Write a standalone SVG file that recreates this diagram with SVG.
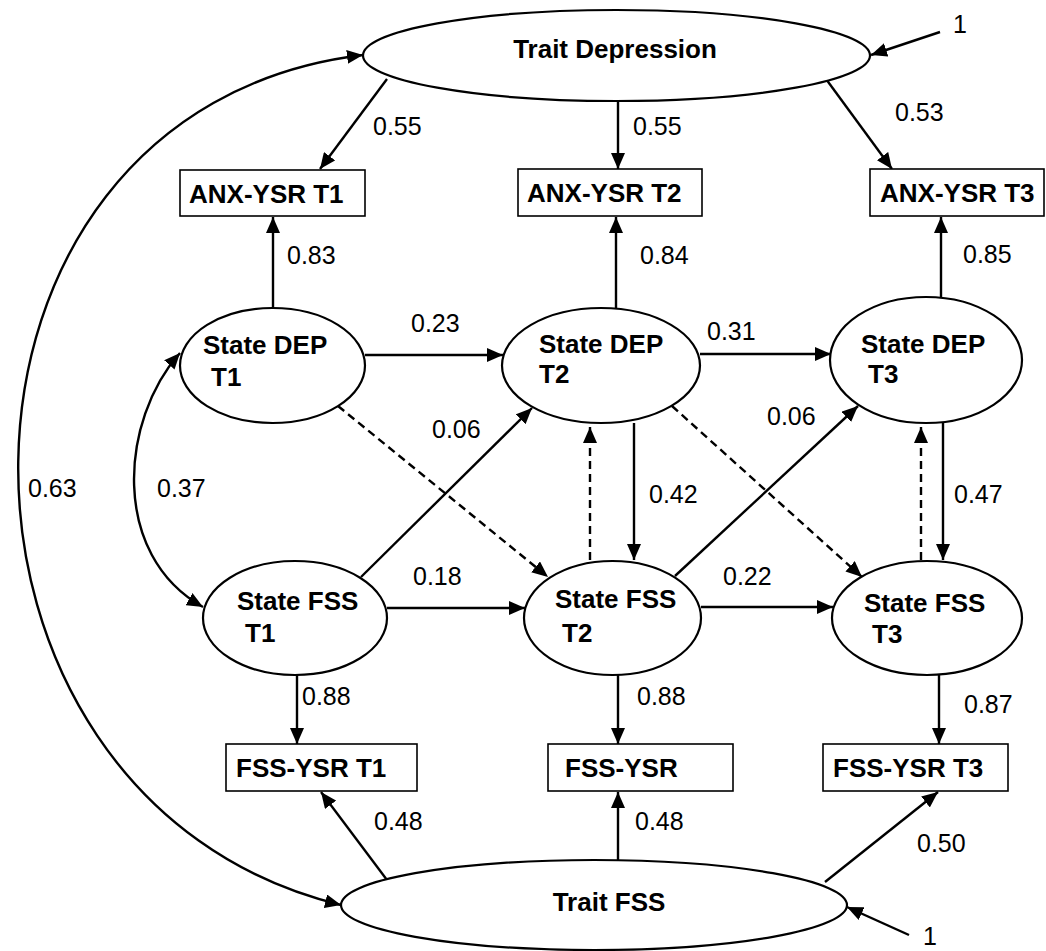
<svg xmlns="http://www.w3.org/2000/svg" width="1046" height="951" viewBox="0 0 1046 951">
<style>
.bg{fill:#fff}
.lat{fill:#fff;stroke:#000;stroke-width:2.2}
.box{fill:#fff;stroke:#000;stroke-width:1.6}
.nt{font-family:"Liberation Sans",Arial,sans-serif;font-weight:bold;font-size:26px;fill:#000}
.lb{font-family:"Liberation Sans",Arial,sans-serif;font-size:25px;fill:#000}
.c{fill:none;stroke:#000;stroke-width:2.4;marker-end:url(#a)}
.d{stroke-dasharray:8 5}
.bi{marker-start:url(#a)}
</style>
<defs>
<marker id="a" viewBox="0 0 16 14" refX="16" refY="7" markerWidth="16" markerHeight="14" orient="auto-start-reverse" markerUnits="userSpaceOnUse"><path d="M0,0 L16,7 L0,14 z" fill="#000"/></marker>
</defs>
<rect class="bg" x="0" y="0" width="1046" height="951"/>
<g id="connectors">
<path class="c bi" d="M363,55 C-93,110 -93,800 341,905"/>
<path class="c bi" d="M180,353 C120,420 110,555 203,607"/>
<line class="c" x1="387" y1="79" x2="320" y2="169"/>
<line class="c" x1="618" y1="102" x2="618" y2="169"/>
<line class="c" x1="826" y1="79" x2="892" y2="169"/>
<line class="c" x1="273" y1="308" x2="273" y2="217"/>
<line class="c" x1="616" y1="308" x2="616" y2="217"/>
<line class="c" x1="941" y1="297" x2="941" y2="217"/>
<line class="c" x1="365" y1="355" x2="503" y2="355"/>
<line class="c" x1="700" y1="354" x2="831" y2="354"/>
<line class="c" x1="387" y1="608" x2="525" y2="608"/>
<line class="c" x1="701" y1="607" x2="833" y2="607"/>
<line class="c d" x1="338" y1="406" x2="548" y2="577"/>
<line class="c" x1="361" y1="577" x2="532" y2="408"/>
<line class="c d" x1="590" y1="560" x2="590" y2="427"/>
<line class="c" x1="634" y1="423" x2="634" y2="560"/>
<line class="c d" x1="672" y1="406" x2="862" y2="577"/>
<line class="c" x1="675" y1="576" x2="858" y2="406"/>
<line class="c d" x1="921" y1="560" x2="921" y2="427"/>
<line class="c" x1="943" y1="423" x2="943" y2="560"/>
<line class="c" x1="297" y1="675" x2="297" y2="744"/>
<line class="c" x1="618" y1="675" x2="618" y2="744"/>
<line class="c" x1="939" y1="675" x2="939" y2="744"/>
<line class="c" x1="387" y1="880" x2="321" y2="792"/>
<line class="c" x1="618" y1="860" x2="618" y2="792"/>
<line class="c" x1="825" y1="882" x2="938" y2="792"/>
<line class="c" x1="940" y1="32" x2="871" y2="55"/>
<line class="c" x1="909" y1="935" x2="847" y2="907"/>
<text class="lb" x="373" y="135">0.55</text>
<text class="lb" x="633" y="135">0.55</text>
<text class="lb" x="895" y="121">0.53</text>
<text class="lb" x="953" y="33">1</text>
<text class="lb" x="287" y="264">0.83</text>
<text class="lb" x="640" y="264">0.84</text>
<text class="lb" x="963" y="263">0.85</text>
<text class="lb" x="411" y="332">0.23</text>
<text class="lb" x="707" y="340">0.31</text>
<text class="lb" x="432" y="438">0.06</text>
<text class="lb" x="767" y="425">0.06</text>
<text class="lb" x="28" y="497">0.63</text>
<text class="lb" x="157" y="497">0.37</text>
<text class="lb" x="649" y="503">0.42</text>
<text class="lb" x="954" y="503">0.47</text>
<text class="lb" x="413" y="585">0.18</text>
<text class="lb" x="723" y="585">0.22</text>
<text class="lb" x="302" y="705">0.88</text>
<text class="lb" x="637" y="705">0.88</text>
<text class="lb" x="964" y="713">0.87</text>
<text class="lb" x="374" y="830">0.48</text>
<text class="lb" x="635" y="830">0.48</text>
<text class="lb" x="917" y="852">0.50</text>
<text class="lb" x="923" y="945">1</text>
</g>
<g id="trait-depression"><ellipse class="lat" cx="616.5" cy="55.5" rx="253.5" ry="45.5"/><text class="nt" x="615" y="58" text-anchor="middle">Trait Depression</text></g>
<g id="anx-t1"><rect class="box" x="180" y="170" width="185" height="46"/><text class="nt" x="189" y="203">ANX-YSR T1</text></g>
<g id="anx-t2"><rect class="box" x="518" y="169" width="184" height="47"/><text class="nt" x="527" y="202">ANX-YSR T2</text></g>
<g id="anx-t3"><rect class="box" x="870" y="169" width="174" height="47"/><text class="nt" x="880" y="202">ANX-YSR T3</text></g>
<g id="state-dep-t1"><ellipse class="lat" cx="272.5" cy="365.5" rx="92.5" ry="57.5"/><text class="nt" x="203" y="354">State DEP</text><text class="nt" x="211" y="386">T1</text></g>
<g id="state-dep-t2"><ellipse class="lat" cx="601" cy="365.5" rx="99" ry="57.5"/><text class="nt" x="539" y="353">State DEP</text><text class="nt" x="539" y="383">T2</text></g>
<g id="state-dep-t3"><ellipse class="lat" cx="926" cy="360" rx="96" ry="63"/><text class="nt" x="861" y="353">State DEP</text><text class="nt" x="868" y="383">T3</text></g>
<g id="state-fss-t1"><ellipse class="lat" cx="295" cy="618" rx="92" ry="57"/><text class="nt" x="237" y="610">State FSS</text><text class="nt" x="245" y="642">T1</text></g>
<g id="state-fss-t2"><ellipse class="lat" cx="612.5" cy="618" rx="88.5" ry="57"/><text class="nt" x="555" y="608">State FSS</text><text class="nt" x="562" y="642">T2</text></g>
<g id="state-fss-t3"><ellipse class="lat" cx="927" cy="618" rx="95" ry="57"/><text class="nt" x="864" y="612">State FSS</text><text class="nt" x="872" y="643">T3</text></g>
<g id="fss-ysr-t1"><rect class="box" x="226" y="744" width="191" height="47"/><text class="nt" x="236" y="777">FSS-YSR T1</text></g>
<g id="fss-ysr-t2"><rect class="box" x="548" y="744" width="185" height="47"/><text class="nt" x="565" y="777">FSS-YSR</text></g>
<g id="fss-ysr-t3"><rect class="box" x="823" y="744" width="185" height="47"/><text class="nt" x="833" y="777">FSS-YSR T3</text></g>
<g id="trait-fss"><ellipse class="lat" cx="594" cy="905" rx="253" ry="45"/><text class="nt" x="609" y="911" text-anchor="middle">Trait FSS</text></g>
</svg>
